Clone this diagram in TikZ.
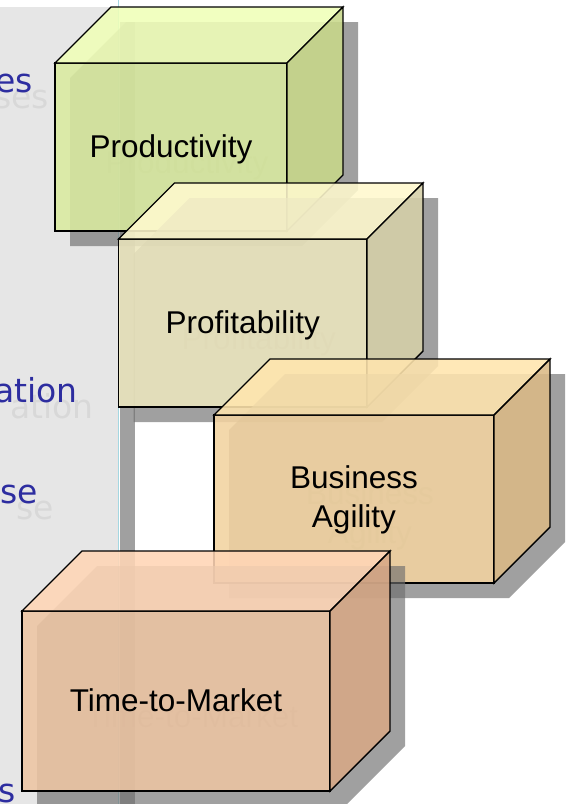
\documentclass[tikz,border=0pt]{standalone}
\usepackage{fontspec}
\setmainfont{Liberation Sans}
\newfontfamily\handfont{DejaVu Sans}
\definecolor{panelgrey}{RGB}{230,230,230}
\definecolor{panelline}{RGB}{165,215,225}
\definecolor{bandgrey}{RGB}{160,160,160}
\definecolor{shadowgrey}{RGB}{111,111,111}
\definecolor{handblue}{RGB}{45,45,160}
\definecolor{prodfront}{RGB}{218,235,160}
\definecolor{prodtop}{RGB}{240,255,184}
\definecolor{prodright}{RGB}{200,216,138}
\definecolor{proffront}{RGB}{236,230,190}
\definecolor{proftop}{RGB}{255,249,206}
\definecolor{profright}{RGB}{214,208,168}
\definecolor{agilfront}{RGB}{242,211,160}
\definecolor{agiltop}{RGB}{255,229,174}
\definecolor{agilright}{RGB}{219,186,134}
\definecolor{ttmfront}{RGB}{237,197,163}
\definecolor{ttmtop}{RGB}{255,214,182}
\definecolor{ttmright}{RGB}{215,168,134}
\newcommand\labelfont{\fontsize{31.5}{39}\selectfont}
\newcommand\handtextfont{\handfont\fontsize{33}{38}\selectfont}
% name, x0, y0, width, height, depth, text, extra text options
\newcommand\drawbox[8]{%
  \fill[boxshadow] ({#2+15},{#3+#5+15}) -- ({#2+15},{#3+15})
    -- ({#2+#6+15},{#3-#6+15}) -- ({#2+#4+#6+15},{#3-#6+15})
    -- ({#2+#4+#6+15},{#3+#5-#6+15}) -- ({#2+#4+15},{#3+#5+15}) -- cycle;
  \node[ghostlabel, #8] (#1ghost) at ({#2+#4/2+16},{#3+#5/2+16}) {#7};
  \node[face, fill=#1front, minimum width=#4pt, minimum height=#5pt, #8] (#1) at (#2,#3) {#7};
  \filldraw[facepart, fill=#1top] (#1.north west) -- ++(#6,-#6) -- ++(#4,0) -- (#1.north east) -- cycle;
  \filldraw[facepart, fill=#1right] (#1.north east) -- ++(#6,-#6) -- ++(0,#5) -- (#1.south east) -- cycle;
}
\begin{document}
\begin{tikzpicture}[x=1pt,y=-1pt,
  boxshadow/.style={fill=shadowgrey, fill opacity=0.66},
  face/.style={draw=black, line width=1.4pt, fill opacity=0.88, text opacity=1,
    inner sep=0pt, outer sep=0pt, anchor=north west, font=\labelfont,
    align=center, text=black, text height=24pt, text depth=4pt},
  facepart/.style={draw=black, line width=1.4pt, fill opacity=0.88, line join=miter},
  ghostlabel/.style={font=\labelfont, align=center, text=black!70, text opacity=0.25,
    inner sep=0pt, text height=24pt, text depth=4pt},
  twolines/.style={text height=60pt, text depth=4pt},
  hand/.style={font=\handtextfont, text=handblue, inner sep=0pt, anchor=base east},
  handghost/.style={font=\handtextfont, text=black, text opacity=0.06, inner sep=0pt, anchor=base east}
]
\useasboundingbox (0,0) rectangle (567,804);
\fill[white] (0,0) rectangle (567,804);
% left panel
\fill[panelgrey] (0,6.5) rectangle (118,804);
\fill[bandgrey] (119.5,22) rectangle (135,804);
\draw[panelline, line width=1.5pt] (118.5,0) -- (118.5,804);
% partial words on the panel
\node[handghost] (w1g) at (49,108) {ses};
\node[hand] (w1) at (33,92) {es};
\node[handghost] (w2g) at (94,418) {ation};
\node[hand] (w2) at (78,402) {ation};
\node[handghost] (w3g) at (54,519) {se};
\node[hand] (w3) at (38,503) {se};
\node[hand] (w4) at (16,802) {s};
% boxes
\drawbox{prod}{55}{63}{232}{168}{56}{Productivity}{}
\drawbox{prof}{118.5}{239}{248.5}{168}{56}{Profitability}{}
\drawbox{agil}{214}{415}{280}{168}{56}{Business\\Agility}{twolines}
\drawbox{ttm}{22}{611}{308}{180}{60}{Time-to-Market}{}
\end{tikzpicture}
\end{document}
